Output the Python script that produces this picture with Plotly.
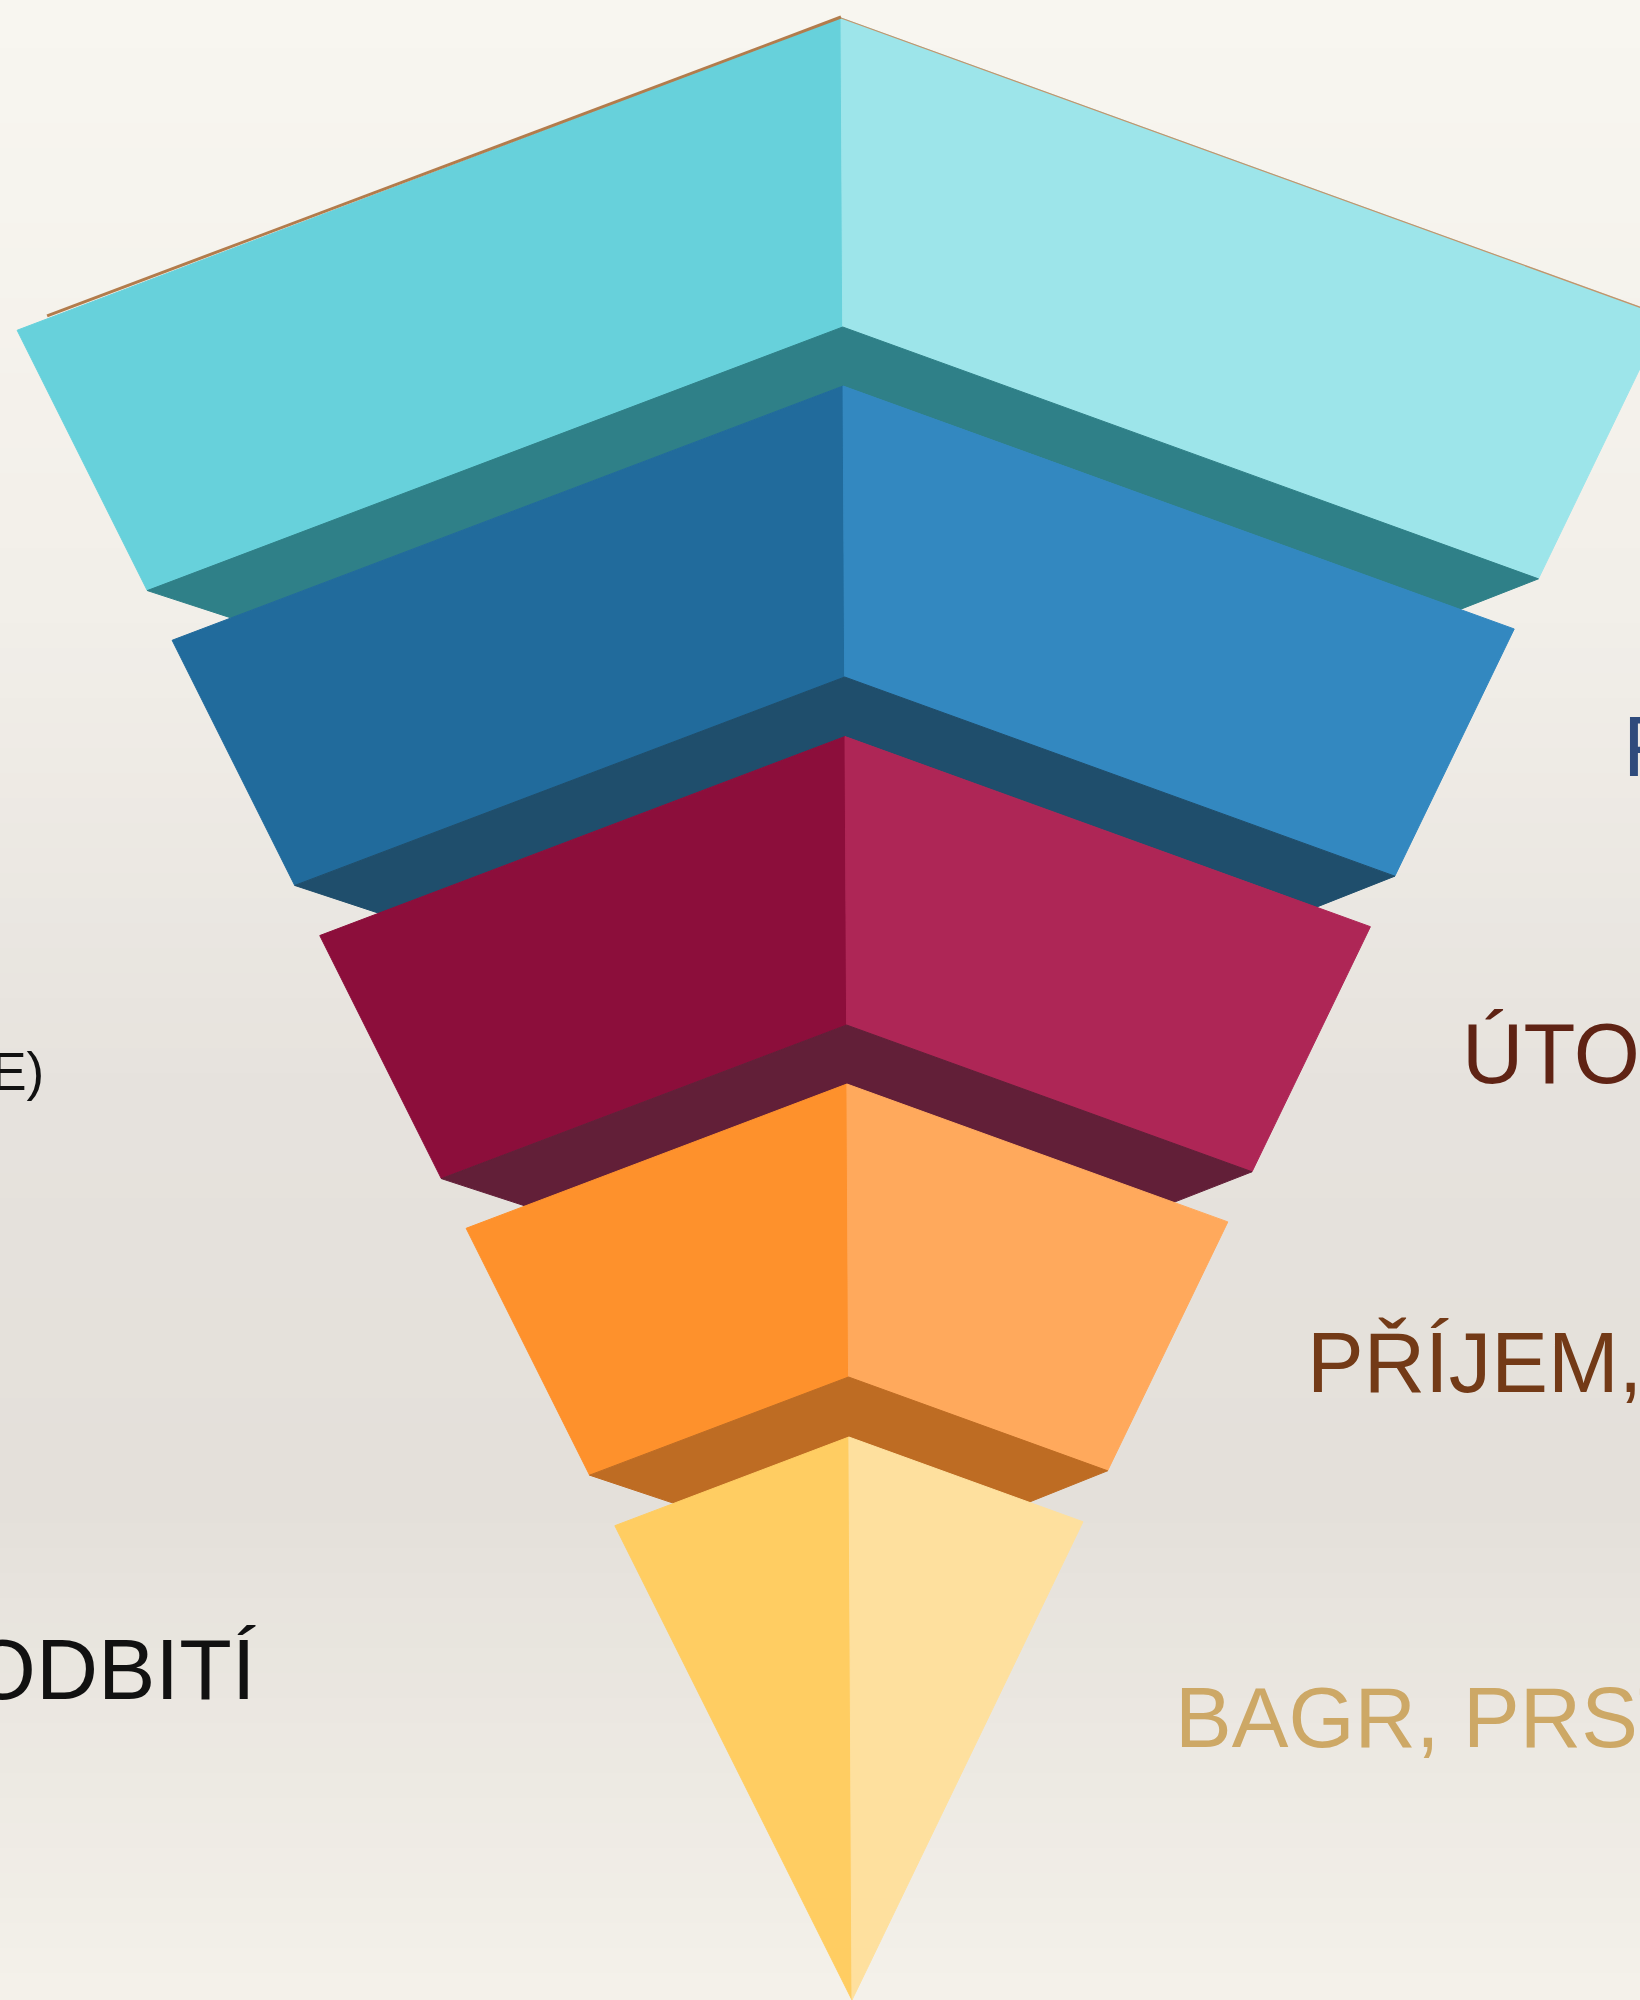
import plotly.graph_objects as go

# ---------------- data ----------------
layers = ["Layer 1", "Layer 2", "Layer 3", "Layer 4", "Layer 5"]
# centre-line levels (page px) where each layer starts and ends
layer_top = [18, 386, 736.5, 1084, 1437]
layer_bottom = [327, 677, 1025, 1377, 2000]

right_labels = ["PODÁNÍ", "ÚTOK", "PŘÍJEM, NAHRÁVKA", "BAGR, PRSTY"]
left_labels = ["TECHNIKA (HRA V POLI A NA SÍTI VE HŘE)", "ODBITÍ"]

# ---------------- styles ----------------
left_face_colors = ["#67D1DB", "#216B9C", "#8C0E3B", "#FE912C", "#FFCD62"]
right_face_colors = ["#9DE5EA", "#3388C0", "#AE2656", "#FFA95C", "#FEE09E"]
under_colors = ["#2F8088", "#1F4E6C", "#621F38", "#BE6C23"]

right_label_colors = ["#2F4B7C", "#5F2314", "#733A17", "#CDA866"]
right_label_pos = [(1621, 746.5), (1460, 1053.5), (1305, 1362), (1173, 1717.5)]
right_label_size = [85, 85, 85, 85]
left_label_colors = ["#111111", "#111111"]
left_label_pos = [(46, 1071), (258, 1669)]
left_label_size = [53, 86]

W, H = 1640, 2000
APEX = (852, 2000)
TOP_CX, TOP_CY = 841, 18
SLOPE_OUT_L, SLOPE_OUT_R = 0.5, 0.483      # dx/dy of the outer silhouette
SLOPE_V_L, SLOPE_V_R = 0.379, 0.362        # dy/dx of the V-shaped edges
INSET_L, INSET_R = 59, 54                  # visible end of each underside band


def center_x(y):
    return TOP_CX + (y - TOP_CY) * (APEX[0] - TOP_CX) / (APEX[1] - TOP_CY)


def left_corner(c):
    cx = center_x(c)
    k = SLOPE_V_L
    y = (c + k * (cx - APEX[0] + SLOPE_OUT_L * APEX[1])) / (1 + k * SLOPE_OUT_L)
    x = APEX[0] - SLOPE_OUT_L * (APEX[1] - y)
    return x, y


def right_corner(c):
    cx = center_x(c)
    k = SLOPE_V_R
    y = (c + k * (APEX[0] + SLOPE_OUT_R * APEX[1] - cx)) / (1 + k * SLOPE_OUT_R)
    x = APEX[0] + SLOPE_OUT_R * (APEX[1] - y)
    return x, y


def on_left_v(c, x):
    return x, c + SLOPE_V_L * (center_x(c) - x)


def on_right_v(c, x):
    return x, c + SLOPE_V_R * (x - center_x(c))


fig = go.Figure()


def poly(points, color):
    xs = [p[0] for p in points] + [points[0][0]]
    ys = [p[1] for p in points] + [points[0][1]]
    fig.add_trace(go.Scatter(
        x=xs, y=ys, mode="lines", fill="toself", fillcolor=color,
        line=dict(color=color, width=1), hoverinfo="skip", showlegend=False))


n = len(layers)
for i in range(n):
    t, b = layer_top[i], layer_bottom[i]
    ctop = (center_x(t), t)
    lt, rt = left_corner(t), right_corner(t)
    if i == n - 1:
        poly([lt, ctop, APEX], left_face_colors[i])
        poly([ctop, rt, APEX], right_face_colors[i])
    else:
        cb = (center_x(b), b)
        lb, rb = left_corner(b), right_corner(b)
        poly([lt, ctop, cb, lb], left_face_colors[i])
        poly([ctop, rt, rb, cb], right_face_colors[i])
        # underside band between this layer and the next
        nt = layer_top[i + 1]
        nlt, nrt = left_corner(nt), right_corner(nt)
        pl = on_left_v(nt, nlt[0] + INSET_L)
        pr = on_right_v(nt, nrt[0] - INSET_R)
        poly([lb, cb, rb, pr, (center_x(nt), nt), pl], under_colors[i])

# thin brown rim along the top edges
lt0 = left_corner(layer_top[0])
rt0 = right_corner(layer_top[0])
x0 = lt0[0] + 30
y0 = on_left_v(layer_top[0], x0)[1] - 3
fig.add_trace(go.Scatter(x=[x0, TOP_CX], y=[y0, TOP_CY - 1], mode="lines",
                         line=dict(color="#B27C4C", width=3),
                         hoverinfo="skip", showlegend=False))
fig.add_trace(go.Scatter(x=[TOP_CX, rt0[0]], y=[TOP_CY, rt0[1]], mode="lines",
                         line=dict(color="#C4946A", width=1.2),
                         hoverinfo="skip", showlegend=False))

# labels
annotations = []
for txt, col, (x, y), s in zip(right_labels, right_label_colors, right_label_pos, right_label_size):
    annotations.append(dict(x=x, y=y, xref="x", yref="y", text=txt, showarrow=False,
                            xanchor="left", yanchor="middle",
                            font=dict(family="Liberation Sans, Arial, sans-serif", size=s, color=col)))
for txt, col, (x, y), s in zip(left_labels, left_label_colors, left_label_pos, left_label_size):
    annotations.append(dict(x=x, y=y, xref="x", yref="y", text=txt, showarrow=False,
                            xanchor="right", yanchor="middle",
                            font=dict(family="Liberation Sans, Arial, sans-serif", size=s, color=col)))

# paper-like background gradient
grad_stops = [(0.0, (248, 246, 240)), (0.3, (242, 239, 233)), (0.55, (230, 226, 221)),
              (0.75, (228, 224, 218)), (1.0, (244, 241, 234))]
shapes = []
nb = 80
for k in range(nb):
    f = (k + 0.5) / nb
    for j in range(len(grad_stops) - 1):
        if grad_stops[j][0] <= f <= grad_stops[j + 1][0]:
            a, ca = grad_stops[j]
            bpos, cb_ = grad_stops[j + 1]
            u = (f - a) / (bpos - a)
            c = tuple(round(ca[m] + (cb_[m] - ca[m]) * u) for m in range(3))
            break
    shapes.append(dict(type="rect", xref="paper", yref="paper", x0=0, x1=1,
                       y0=1 - (k + 1) / nb - 0.001, y1=1 - k / nb + 0.001,
                       fillcolor="rgb(%d,%d,%d)" % c, line=dict(width=0), layer="below"))

fig.update_layout(
    width=W, height=H, margin=dict(l=0, r=0, t=0, b=0),
    paper_bgcolor="#EEEBE5", plot_bgcolor="rgba(0,0,0,0)",
    xaxis=dict(range=[0, W], visible=False, fixedrange=True),
    yaxis=dict(range=[H, 0], visible=False, fixedrange=True),
    annotations=annotations, shapes=shapes, showlegend=False,
)

fig.write_html(
    "out.html",
    config={"displayModeBar": False},
    post_script="document.body.style.margin='0';document.body.style.padding='0';"
                "document.body.style.overflow='hidden';"
                "document.documentElement.style.overflow='hidden';",
)
